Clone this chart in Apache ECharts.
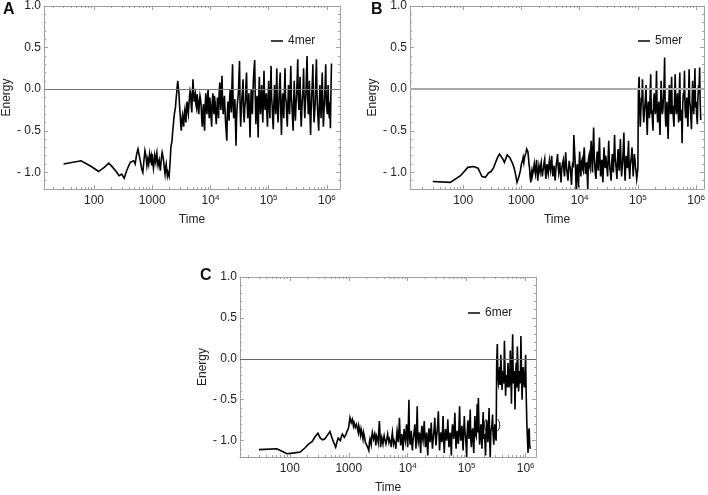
<!DOCTYPE html>
<html><head><meta charset="utf-8">
<script src="https://cdn.jsdelivr.net/npm/echarts@6/dist/echarts.min.js"></script>
<style>html,body{margin:0;padding:0;background:#fff}#c{width:708px;height:495px}</style>
</head><body><div id="c"></div>
<script>
// Sampling times (simulation steps), coarse record
const times = [
 30,60,90,120,150,180,210,240,270,300,330,360,390,420,450,480,510,540,570,600,630,660,690,720,750,780,810,840,870,900,930,960,990,
 1000,1050,1100,1150,1200,1260,1320,1380,1450,1510,1580,1660,1740,1820,1910,2000,2090,2190,2290,2400,2510,2630,2750,2880,3020,3160,3310,3470,3630,3800,3980,4170,4370,4570,4790,5010,5250,5500,5750,6030,6310,6610,6920,7240,7590,7940,8320,8710,9120,9550,
 10000,10500,11000,11500,12000,12600,13200,13800,14500,15100,15800,16600,17400,18200,19100,20000,20900,21900,22900,24000,25100,26300,27500,28800,30200,31600,33100,34700,36300,38000,39800,41700,43700,45700,47900,50100,52500,55000,57500,60300,63100,66100,69200,72400,75900,79400,83200,87100,91200,95500,
 100000,105000,110000,115000,120000,126000,132000,138000,145000,151000,158000,166000,174000,182000,191000,200000,209000,219000,229000,240000,251000,263000,275000,288000,302000,316000,331000,347000,363000,380000,398000,417000,437000,457000,479000,501000,525000,550000,575000,603000,631000,661000,692000,724000,759000,794000,832000,871000,912000,955000,
 1000000,1050000,1100000,1150000,1200000
];
// Intermediate sampling times in the fluctuating regime
const timesMid = [
 1020,1070,1120,1170,1230,1290,1350,1410,1480,1540,1620,1700,1780,1860,1950,2040,2140,2240,2340,2450,2570,2690,2810,2950,3090,3230,3390,3550,3710,3890,4070,4270,4470,4680,4900,5130,5370,5620,5890,6170,6460,6760,7080,7410,7760,8130,8510,8910,9330,9770,
 10200,10700,11200,11700,12300,12900,13500,14100,14800,15400,16200,17000,17800,18600,19500,20400,21400,22400,23400,24500,25700,26900,28100,29500,30900,32300,33900,35500,37100,38900,40700,42700,44700,46800,49000,51300,53700,56200,58900,61700,64600,67600,70800,74100,77600,81300,85100,89100,93300,97700,
 102000,107000,112000,117000,123000,129000,135000,141000,148000,154000,162000,170000,178000,186000,195000,204000,214000,224000,234000,245000,257000,269000,281000,295000,309000,323000,339000,355000,371000,389000,407000,427000,447000,468000,490000,513000,537000,562000,589000,617000,646000,676000,708000,741000,776000,813000,851000,891000,933000,977000,
 1020000,1070000,1120000,1170000
];
const energy4mer = [
 -0.90,-0.86,-0.93,-0.99,-0.94,-0.89,-0.94,-0.99,-1.04,-1.02,-1.07,-0.99,-0.93,-0.88,-0.89,-0.86,-0.90,-0.78,-0.72,-0.80,-0.88,-0.96,-1.00,-0.86,-0.74,-0.80,-0.92,-0.84,-0.90,-0.78,-0.85,-0.80,-0.92,
 -0.78,-0.95,-0.80,-0.88,-0.76,-0.92,-0.85,-0.98,-0.80,-0.74,-0.88,-1.02,-0.90,-1.04,-0.98,-1.03,-0.70,-0.62,-0.45,-0.30,-0.22,-0.05,0.10,-0.05,-0.30,-0.50,-0.32,-0.45,-0.25,-0.40,-0.15,-0.30,-0.10,-0.05,-0.28,0.12,-0.15,-0.05,-0.22,-0.12,-0.30,-0.08,-0.20,-0.45,-0.18,-0.50,-0.05,-0.30,0.00,-0.35,
 -0.20,-0.45,-0.05,-0.30,-0.15,-0.42,-0.10,-0.35,0.08,-0.25,0.16,-0.30,-0.08,-0.40,-0.62,-0.15,-0.38,0.00,-0.28,0.30,-0.35,-0.12,-0.68,-0.20,-0.05,0.34,-0.45,-0.10,0.12,-0.40,-0.15,0.20,-0.35,-0.05,-0.58,0.00,-0.30,0.15,0.35,-0.42,-0.08,-0.58,0.15,-0.30,0.05,-0.40,0.22,-0.25,-0.05,-0.45,
 0.10,-0.35,0.28,-0.20,-0.48,0.05,-0.30,0.25,-0.40,-0.10,0.20,-0.55,-0.05,-0.35,0.25,-0.15,-0.45,0.05,-0.30,0.28,-0.20,-0.50,0.10,-0.38,-0.05,0.36,-0.25,0.15,-0.45,-0.10,0.25,-0.35,-0.05,0.40,-0.30,0.10,-0.55,-0.05,0.30,-0.40,-0.15,0.36,-0.25,-0.50,0.05,-0.35,0.20,-0.45,-0.10,0.30,
 -0.20,0.05,-0.35,-0.47,0.31
];
const energy4merMid = [
 -0.86,-0.90,-0.84,-0.80,-0.86,-0.88,-0.92,-0.90,-0.76,-0.82,-0.96,-0.94,-0.98,-1.00,-1.05,-0.85,-0.66,-0.52,-0.38,-0.26,-0.12,0.04,0.02,-0.20,-0.42,-0.38,-0.40,-0.30,-0.34,-0.22,-0.25,-0.18,-0.02,-0.20,-0.05,-0.02,-0.08,-0.18,-0.06,-0.25,-0.15,-0.12,-0.35,-0.28,-0.40,-0.20,-0.22,-0.12,-0.25,-0.10,
 -0.32,-0.18,-0.22,-0.08,-0.30,-0.25,-0.20,-0.05,-0.12,-0.02,-0.20,-0.15,-0.25,-0.50,-0.30,-0.28,-0.10,-0.18,0.05,-0.15,-0.22,-0.40,-0.35,-0.12,0.15,-0.20,-0.25,-0.02,-0.28,-0.22,0.05,-0.15,-0.20,-0.30,-0.25,-0.12,-0.05,0.25,-0.10,-0.25,-0.32,-0.10,-0.18,-0.12,-0.22,-0.08,-0.15,-0.12,-0.30,-0.15,
 -0.12,-0.05,-0.08,-0.35,-0.18,-0.12,-0.05,-0.22,-0.25,0.05,-0.30,-0.20,-0.22,-0.05,-0.10,-0.32,-0.18,-0.12,-0.02,-0.08,-0.35,-0.15,-0.22,-0.18,0.12,-0.10,-0.05,-0.28,-0.25,-0.02,-0.12,-0.18,0.20,-0.08,-0.15,-0.32,-0.25,0.08,-0.18,-0.28,0.12,-0.05,-0.38,-0.20,-0.12,-0.05,-0.22,-0.28,0.05,-0.18,
 -0.30,-0.20,-0.15,-0.10
];
const energy5mer = [
 -1.11,-1.12,-1.04,-0.94,-0.93,-0.95,-1.05,-1.06,-1.01,-0.99,-0.95,-0.88,-0.82,-0.78,-0.79,-0.84,-0.88,-0.86,-0.79,-0.80,-0.82,-0.84,-0.88,-0.91,-0.95,-1.00,-1.06,-1.12,-1.13,-1.06,-1.02,-0.98,-0.96,
 -0.90,-0.85,-0.88,-0.80,-0.76,-0.70,-0.82,-0.95,-1.12,-0.98,-1.06,-0.90,-1.02,-0.85,-1.10,-0.92,-1.00,-0.88,-1.05,-0.95,-0.84,-1.08,-0.90,-1.02,-0.86,-0.98,-0.80,-1.05,-0.92,-1.10,-0.90,-0.78,-1.00,-0.88,-1.12,-0.92,-0.85,-1.05,-0.76,-0.98,-1.10,-0.86,-0.95,-1.15,-0.88,-0.55,-0.72,-1.20,-0.90,-1.18,
 -0.75,-1.05,-0.85,-0.98,-0.70,-1.02,-0.88,-1.20,-0.80,-0.95,-0.62,-1.00,-0.46,-0.92,-1.08,-0.75,-0.98,-0.58,-1.05,-0.85,-1.12,-0.70,-0.95,-0.80,-1.05,-0.62,-0.95,-1.10,-0.78,-1.00,-0.55,-0.90,-1.08,-0.72,-0.98,-0.60,-1.05,-0.85,-0.52,-1.10,-0.80,-0.95,-0.62,-1.08,-0.85,-0.70,-1.05,-0.78,-0.95,-1.08,
 -0.95,0.15,-0.45,-0.10,0.12,-0.40,-0.20,0.05,-0.55,-0.15,-0.35,0.18,-0.25,-0.50,-0.05,-0.30,0.22,-0.40,-0.15,-0.55,0.10,-0.30,-0.10,0.38,-0.45,-0.15,-0.60,0.05,-0.30,0.15,-0.20,-0.45,0.18,-0.30,-0.05,-0.40,0.20,-0.25,-0.65,-0.05,0.22,-0.35,-0.10,-0.45,0.24,-0.20,-0.48,0.10,-0.30,0.25,
 -0.15,-0.42,0.05,0.26,-0.37
];
const energy5merMid = [
 -0.88,-0.82,-0.84,-0.78,-0.72,-0.75,-0.90,-1.05,-1.02,-1.04,-0.96,-0.98,-0.92,-0.98,-1.00,-0.96,-0.92,-0.98,-0.98,-0.88,-0.98,-0.96,-0.98,-0.92,-0.94,-0.88,-0.95,-0.98,-1.02,-0.98,-0.86,-0.92,-0.94,-1.02,-0.98,-0.88,-0.98,-0.92,-0.90,-1.04,-0.96,-0.92,-1.05,-0.98,-0.94,-0.70,-0.98,-1.00,-1.04,-0.92,
 -0.92,-0.88,-0.95,-0.80,-0.90,-0.95,-1.05,-0.85,-0.92,-0.78,-0.85,-0.70,-0.80,-1.02,-0.88,-0.90,-0.75,-0.85,-0.95,-1.00,-0.85,-0.88,-0.80,-0.95,-0.82,-0.85,-1.02,-0.90,-0.92,-0.78,-0.82,-0.98,-0.86,-0.90,-0.76,-0.88,-0.95,-0.70,-0.90,-0.92,-0.88,-0.78,-0.95,-0.92,-0.80,-0.90,-0.88,-0.85,-1.00,-1.02,
 -0.05,-0.20,-0.30,-0.15,-0.22,-0.28,-0.10,-0.32,-0.25,-0.20,-0.08,-0.30,-0.38,-0.15,-0.22,-0.12,-0.25,-0.30,-0.35,-0.20,-0.18,-0.25,0.05,-0.28,-0.32,-0.40,-0.22,-0.15,-0.05,-0.30,-0.35,-0.12,-0.18,-0.20,-0.25,-0.10,-0.38,-0.30,-0.18,-0.12,-0.22,-0.25,-0.32,-0.10,-0.15,-0.35,-0.20,-0.12,-0.05,-0.22,
 -0.30,-0.15,-0.05,-0.10
];
const energy6mer = [
 -1.11,-1.10,-1.16,-1.15,-1.14,-1.09,-1.04,-1.01,-0.95,-0.91,-0.97,-0.99,-0.98,-0.95,-0.96,-0.89,-0.95,-1.00,-1.04,-1.08,-1.02,-0.97,-0.99,-1.00,-0.95,-0.92,-0.90,-0.96,-0.98,-0.92,-0.89,-0.87,-0.85,
 -0.84,-0.72,-0.78,-0.74,-0.82,-0.80,-0.86,-0.82,-0.90,-0.84,-0.93,-0.88,-0.98,-0.92,-1.02,-1.00,-1.08,-1.12,-0.98,-1.05,-0.90,-0.98,-0.92,-1.06,-0.95,-1.02,-0.76,-1.08,-0.96,-1.04,-0.94,-1.00,-1.06,-0.92,-1.02,-0.96,-1.08,-0.90,-1.04,-0.98,-1.10,-0.88,-1.02,-0.72,-1.06,-0.92,-1.12,-0.86,-1.00,-0.80,
 -1.08,-0.50,-1.05,-0.88,-1.12,-0.94,-0.80,-1.10,-0.58,-1.02,-0.90,-1.15,-0.82,-1.00,-0.76,-1.08,-0.90,-1.18,-0.85,-1.02,-0.78,-1.10,-0.92,-0.72,-1.06,-0.88,-0.64,-1.12,-0.90,-1.02,-0.70,-1.15,-0.86,-1.00,-0.74,-1.08,-0.90,-1.18,-0.80,-0.98,-0.66,-1.10,-0.88,-1.04,-0.58,-1.00,-0.82,-1.12,-0.70,-0.95,
 -1.20,-0.75,-0.98,-0.62,-1.08,-0.85,-1.15,-0.70,-0.95,-0.55,-0.48,-1.05,-0.80,-1.10,-0.65,-0.92,-1.18,-0.75,-1.02,-0.60,-1.20,-0.85,-0.68,-1.05,-0.80,-1.00,0.18,-0.30,-0.10,0.05,-0.38,-0.15,0.22,-0.45,-0.20,-0.05,-0.35,0.10,-0.55,0.30,-0.25,-0.62,-0.05,0.15,-0.40,-0.15,0.28,-0.50,-0.10,-0.35,
 0.05,-0.80,-1.15,-0.85,-1.10
];
const energy6merMid = [
 -0.78,-0.74,-0.80,-0.76,-0.78,-0.84,-0.80,-0.86,-0.82,-0.88,-0.86,-0.94,-0.90,-0.96,-1.00,-1.04,-1.10,-1.02,-1.00,-0.96,-0.94,-1.00,-0.98,-0.94,-0.98,-0.88,-0.92,-1.00,-1.00,-0.98,-0.98,-1.04,-0.96,-0.98,-0.98,-1.02,-0.96,-0.98,-1.00,-1.04,-0.96,-0.94,-0.90,-0.92,-0.98,-1.02,-0.96,-0.94,-0.92,-0.96,
 -0.85,-0.95,-0.98,-1.02,-1.00,-0.88,-0.95,-0.90,-0.96,-0.98,-1.02,-0.92,-0.96,-0.88,-0.95,-1.00,-1.05,-0.96,-0.92,-0.90,-0.98,-1.00,-0.86,-0.94,-0.96,-0.80,-0.90,-0.98,-0.96,-0.88,-0.98,-0.96,-0.92,-0.90,-0.95,-1.00,-1.02,-0.92,-0.88,-0.85,-0.92,-0.96,-0.98,-0.82,-0.90,-0.92,-0.98,-0.90,-0.88,-1.05,
 -0.92,-0.88,-0.85,-0.95,-0.90,-1.00,-0.88,-0.92,-0.78,-0.90,-0.85,-0.96,-0.90,-0.82,-0.98,-1.02,-0.88,-0.92,-0.85,-0.95,-0.90,-0.80,-0.92,-0.88,-0.95,-0.05,-0.20,-0.25,-0.32,-0.15,-0.22,-0.30,-0.12,-0.25,-0.35,-0.18,-0.28,-0.20,-0.05,-0.30,-0.15,-0.22,-0.35,-0.10,-0.25,-0.30,-0.12,-0.20,-0.28,-0.22,
 -0.40,-0.95,-0.90,-1.05
];
const seriesNames = ['4mer','5mer','6mer'];
const panelLabels = ['A','B','C'];
const xTickValues = [100,1000,10000,100000,1000000];
const yTickValues = [-1,-0.5,0,0.5,1];
const yMinorValues = [-1.2,-1.1,-0.9,-0.8,-0.7,-0.6,-0.4,-0.3,-0.2,-0.1,0.1,0.2,0.3,0.4,0.6,0.7,0.8,0.9];
const xMinorValues = [20,30,40,50,60,70,80,90,200,300,400,500,600,700,800,900,2000,3000,4000,5000,6000,7000,8000,9000,
 20000,30000,40000,50000,60000,70000,80000,90000,200000,300000,400000,500000,600000,700000,800000,900000];

const energies = [energy4mer, energy5mer, energy6mer];
const energiesMid = [energy4merMid, energy5merMid, energy6merMid];
const grids = [
  {left:43, top:4, width:297, height:185},
  {left:410, top:4, width:295, height:185},
  {left:240, top:277, width:296, height:183}
];
const xMin = [13.8, 12.2, 14.3];
const xMax = [1.68e6, 1.37e6, 1.5e6];
const zeroColor = ['#777','#aaa','#666'];
const zeroWidth = [1, 2, 1];
const FONT = '"Liberation Sans", Arial, sans-serif';
const frameColor = '#a0a0a0';
const textColor = '#222';

function xAxes(i){
  const common = {type:'log', logBase:10, gridIndex:i, min:xMin[i], max:xMax[i], splitLine:{show:false}};
  return [
    Object.assign({}, common, {position:'bottom',
      axisLine:{show:true,onZero:false,lineStyle:{color:frameColor,width:1}},
      axisTick:{show:true,inside:true,length:4,customValues:xTickValues,lineStyle:{color:frameColor}},
      axisLabel:{show:true,customValues:xTickValues,margin:5,color:textColor,fontFamily:FONT,fontSize:12,lineHeight:14,
        formatter:function(v){ return v < 10000 ? String(v) : '10{s|' + Math.round(Math.log10(v)) + '}'; },
        rich:{s:{fontSize:8,lineHeight:8,verticalAlign:'top',fontFamily:FONT,color:textColor}}},
      name:'Time', nameLocation:'middle', nameGap:25,
      nameTextStyle:{color:textColor,fontFamily:FONT,fontSize:12}}),
    Object.assign({}, common, {position:'bottom',
      axisLine:{show:false,onZero:false},
      axisTick:{show:true,inside:true,length:2,customValues:xMinorValues,lineStyle:{color:frameColor}},
      axisLabel:{show:false}}),
    Object.assign({}, common, {position:'top',
      axisLine:{show:true,onZero:false,lineStyle:{color:frameColor,width:1}},
      axisTick:{show:true,inside:true,length:4,customValues:xTickValues,lineStyle:{color:frameColor}},
      axisLabel:{show:false}}),
    Object.assign({}, common, {position:'top',
      axisLine:{show:false,onZero:false},
      axisTick:{show:true,inside:true,length:2,customValues:xMinorValues,lineStyle:{color:frameColor}},
      axisLabel:{show:false}})
  ];
}
function yAxes(i){
  const common = {type:'value', gridIndex:i, min:-1.2, max:1.0, splitLine:{show:false}};
  return [
    Object.assign({}, common, {position:'left',
      axisLine:{show:true,onZero:false,lineStyle:{color:frameColor,width:1}},
      axisTick:{show:true,inside:true,length:4,customValues:yTickValues,lineStyle:{color:frameColor}},
      axisLabel:{show:true,customValues:yTickValues,margin:3,color:textColor,fontFamily:FONT,fontSize:12,
        formatter:function(v){ return v < 0 ? '- ' + Math.abs(v).toFixed(1) : v.toFixed(1); }},
      name:'Energy', nameLocation:'middle', nameRotate:90, nameGap:30,
      nameTextStyle:{color:textColor,fontFamily:FONT,fontSize:12}}),
    Object.assign({}, common, {position:'left',
      axisLine:{show:false,onZero:false},
      axisTick:{show:true,inside:true,length:2,customValues:yMinorValues,lineStyle:{color:frameColor}},
      axisLabel:{show:false}}),
    Object.assign({}, common, {position:'right',
      axisLine:{show:true,onZero:false,lineStyle:{color:frameColor,width:1}},
      axisTick:{show:true,inside:true,length:4,customValues:yTickValues,lineStyle:{color:frameColor}},
      axisLabel:{show:false}}),
    Object.assign({}, common, {position:'right',
      axisLine:{show:false,onZero:false},
      axisTick:{show:true,inside:true,length:2,customValues:yMinorValues,lineStyle:{color:frameColor}},
      axisLabel:{show:false}})
  ];
}

const xAxisList = [], yAxisList = [], seriesList = [];
for (let i = 0; i < 3; i++) {
  xAxisList.push(...xAxes(i));
  yAxisList.push(...yAxes(i));
  const pts = times.map((t, k) => [t, energies[i][k]])
    .concat(timesMid.map((t, k) => [t, energiesMid[i][k]]))
    .sort((a, b) => a[0] - b[0]);
  seriesList.push({
    type:'line', name:seriesNames[i], xAxisIndex:4*i, yAxisIndex:4*i,
    data: pts,
    showSymbol:false, symbol:'none', clip:true,
    lineStyle:{color:'#000', width:1.6, join:'miter'}, itemStyle:{color:'#000'},
    markLine:{silent:true, symbol:['none','none'], label:{show:false}, animation:false,
      lineStyle:{color:zeroColor[i], width:zeroWidth[i], type:'solid'}, data:[{yAxis:0}]}
  });
}

const legendPos = [{left:271, top:35}, {left:638, top:35}, {left:468, top:307}];
const legends = seriesNames.map((n, i) => ({
  data:[n], left:legendPos[i].left, top:legendPos[i].top, icon:'rect', itemWidth:12, itemHeight:1.5,
  itemGap:0, padding:0, selectedMode:false,
  textStyle:{color:textColor, fontFamily:FONT, fontSize:12}
}));

const labelPos = [{left:3, top:2}, {left:371, top:2}, {left:200, top:268}];
const graphics = panelLabels.map((l, i) => ({
  type:'text', left:labelPos[i].left, top:labelPos[i].top,
  style:{text:l, font:'bold 16px ' + FONT, fill:'#111'}
}));
graphics.push({type:'text', left:483, top:419, style:{text:'(   )', font:'12px ' + FONT, fill:'#333'}});

const chart = echarts.init(document.getElementById('c'), null, {renderer:'canvas'});
chart.setOption({
  animation:false,
  backgroundColor:'#fff',
  grid: grids,
  xAxis: xAxisList,
  yAxis: yAxisList,
  legend: legends,
  graphic: graphics,
  series: seriesList
});
</script></body></html>
